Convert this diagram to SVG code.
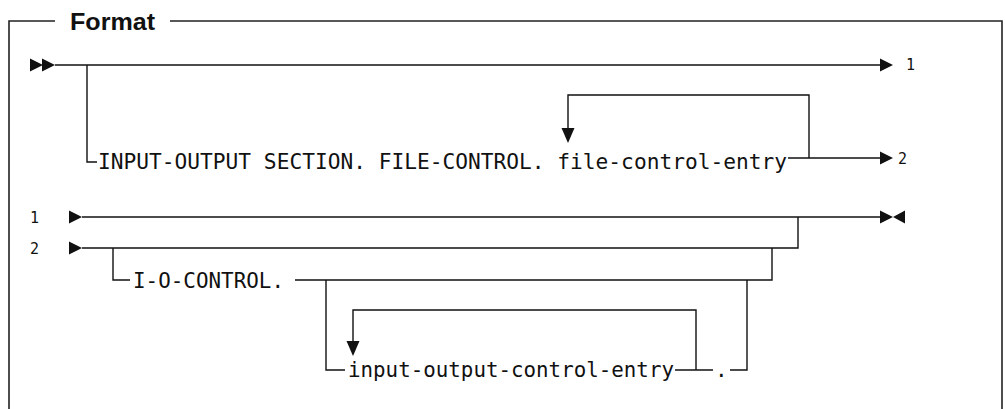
<svg xmlns="http://www.w3.org/2000/svg" xmlns:xlink="http://www.w3.org/1999/xlink" width="1005" height="409" viewBox="0 0 1005 409">
  <style>
    .ln { fill: none; stroke: #111; stroke-width: 1.4; }
    .frame { fill: none; stroke: #222; stroke-width: 1.6; }
    .kw { font-family: "DejaVu Sans Mono", "Liberation Mono", monospace; font-size: 21px; fill: #111; }
    .ref { font-family: "DejaVu Sans Mono", "Liberation Mono", monospace; font-size: 15px; fill: #111; }
    .title { font-family: "Liberation Sans", Arial, sans-serif; font-size: 24px; font-weight: bold; fill: #111; }
    .head { fill: #111; }
  </style>
  <defs>
    <path id="tri-r" d="M0,-6.5 L13,0 L0,6.5 Z"/>
    <path id="tri-l" d="M0,0 L12,-6.5 L12,6.5 Z"/>
    <path id="tri-d" d="M-6.5,-15 L6.5,-15 L0,0 Z"/>
  </defs>

  <!-- titled frame -->
  <g id="frame">
    <path class="frame" d="M55,21 H9 V409"/>
    <path class="frame" d="M170,21 H1002 V409"/>
    <text class="title" x="70" y="30" textLength="85" lengthAdjust="spacingAndGlyphs">Format</text>
  </g>

  <!-- syntax lines and arrowheads -->
  <g id="connectors">
    <!-- first part: start of statement -->
    <use href="#tri-r" class="head" x="30" y="65"/>
    <use href="#tri-r" class="head" x="42" y="65"/>
    <path class="ln" d="M55,65 H882"/>
    <use href="#tri-r" class="head" x="880" y="65"/>
    <path class="ln" d="M87,65 V162 H97"/>
    <path class="ln" d="M788,158 H882"/>
    <use href="#tri-r" class="head" x="880" y="158"/>
    <path class="ln" d="M809,158 V95 H568 V130"/>
    <use href="#tri-d" class="head" x="568" y="143"/>

    <!-- second part: continuation -->
    <use href="#tri-r" class="head" x="69" y="217"/>
    <use href="#tri-r" class="head" x="69" y="248"/>
    <path class="ln" d="M82,217 H882"/>
    <use href="#tri-r" class="head" x="880" y="217"/>
    <use href="#tri-l" class="head" x="893" y="217"/>
    <path class="ln" d="M82,248 H798 V217"/>
    <path class="ln" d="M113,248 V280 H130"/>
    <path class="ln" d="M295,280 H772 V248"/>
    <path class="ln" d="M326,280 V370 H345"/>
    <path class="ln" d="M675,370 H713"/>
    <path class="ln" d="M730,370 H747 V280"/>
    <path class="ln" d="M696,370 V310 H353 V343"/>
    <use href="#tri-d" class="head" x="353" y="356"/>
  </g>

  <!-- continuation references -->
  <g id="ref-1-out"><text class="ref" x="906" y="70">1</text></g>
  <g id="ref-2-out"><text class="ref" x="898" y="164">2</text></g>
  <g id="ref-1-in"><text class="ref" x="30" y="223">1</text></g>
  <g id="ref-2-in"><text class="ref" x="30" y="254">2</text></g>

  <!-- keywords and variables -->
  <g id="node-file-control">
    <text class="kw" x="98" y="169" textLength="689" lengthAdjust="spacingAndGlyphs">INPUT-OUTPUT SECTION. FILE-CONTROL. file-control-entry</text>
  </g>
  <g id="node-io-control">
    <text class="kw" x="133" y="288" textLength="151" lengthAdjust="spacingAndGlyphs">I-O-CONTROL.</text>
  </g>
  <g id="node-io-control-entry">
    <text class="kw" x="348" y="377" textLength="326" lengthAdjust="spacingAndGlyphs">input-output-control-entry</text>
  </g>
  <g id="node-period">
    <text class="kw" x="715" y="377">.</text>
  </g>
</svg>
